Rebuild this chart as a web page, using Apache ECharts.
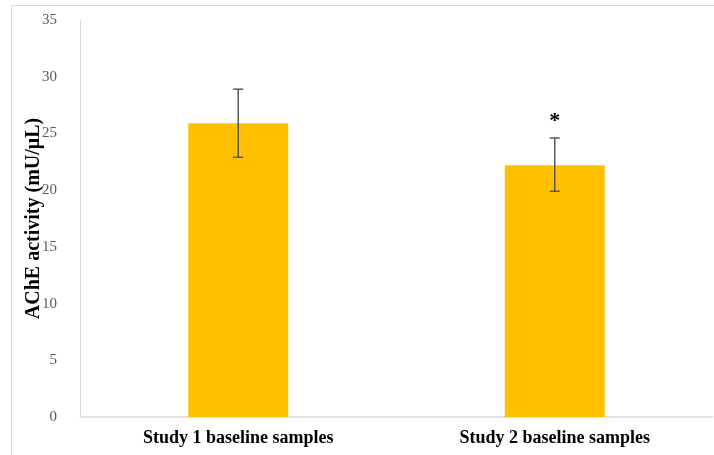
<!DOCTYPE html>
<html>
<head>
<meta charset="utf-8">
<script src="https://cdn.jsdelivr.net/npm/echarts@6/dist/echarts.min.js"></script>
<style>
html,body{margin:0;padding:0;background:#fff;}
#chart{width:714px;height:455px;}
</style>
</head>
<body>
<div id="chart"></div>
<script>
var categories = ['Study 1 baseline samples', 'Study 2 baseline samples'];
var means = [25.9, 22.2];
var errLow = [22.9, 19.9];
var errHigh = [28.9, 24.6];
var marks = ['', '*'];
var yTicks = [0, 5, 10, 15, 20, 25, 30, 35];

var chart = echarts.init(document.getElementById('chart'));
var errData = categories.map(function (c, i) { return [i, errLow[i], errHigh[i], marks[i]]; });

chart.setOption({
  animation: false,
  backgroundColor: '#ffffff',
  graphic: [{
    type: 'rect',
    shape: { x: 11.5, y: 5.5, width: 720, height: 470 },
    style: { fill: 'none', stroke: '#d9d9d9', lineWidth: 1 },
    silent: true
  }],
  grid: { left: 80, top: 20, right: 1, bottom: 38 },
  xAxis: {
    type: 'category',
    data: categories,
    axisLine: { lineStyle: { color: '#d9d9d9', width: 1.5 } },
    axisTick: { show: false },
    axisLabel: {
      fontFamily: 'Liberation Serif', fontWeight: 'bold', fontSize: 18,
      color: '#000', margin: 12
    }
  },
  yAxis: {
    type: 'value',
    min: 0, max: 35, interval: 5,
    name: 'AChE activity (mU/\u03bcL)',
    nameLocation: 'middle',
    nameRotate: 90,
    nameGap: 36,
    nameMoveOverlap: false,
    nameTextStyle: { fontFamily: 'Liberation Serif', fontWeight: 'bold', fontSize: 20, color: '#000' },
    axisLine: { show: true, lineStyle: { color: '#d9d9d9', width: 1 } },
    axisTick: { show: false },
    splitLine: { show: false },
    axisLabel: {
      fontFamily: 'Liberation Serif', fontSize: 15, color: '#595959', margin: 23,
      formatter: function (v) { return yTicks.indexOf(v) >= 0 ? String(v) : ''; }
    }
  },
  series: [{
    type: 'bar',
    data: means,
    barWidth: '31.6%',
    itemStyle: { color: '#ffc000' }
  }, {
    type: 'custom',
    data: errData,
    z: 10,
    renderItem: function (params, api) {
      var x = api.value(0);
      var lo = api.coord([x, api.value(1)]);
      var hi = api.coord([x, api.value(2)]);
      var cap = 5;
      var style = { stroke: '#595959', lineWidth: 1.5 };
      var children = [
        { type: 'line', shape: { x1: lo[0], y1: lo[1], x2: hi[0], y2: hi[1] }, style: style },
        { type: 'line', shape: { x1: lo[0] - cap, y1: lo[1], x2: lo[0] + cap, y2: lo[1] }, style: style },
        { type: 'line', shape: { x1: hi[0] - cap, y1: hi[1], x2: hi[0] + cap, y2: hi[1] }, style: style }
      ];
      var m = api.value(3);
      if (m) {
        children.push({
          type: 'text',
          style: {
            text: m, x: hi[0], y: hi[1] - 17,
            align: 'center', verticalAlign: 'middle',
            font: 'bold 22px "Liberation Serif"', fill: '#000'
          }
        });
      }
      return { type: 'group', children: children };
    }
  }]
});
</script>
</body>
</html>
